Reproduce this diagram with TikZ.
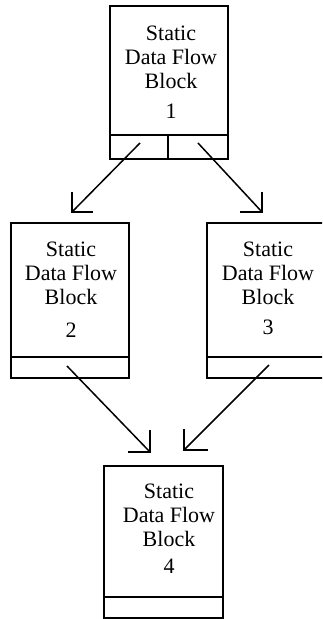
\documentclass[tikz,border=0pt]{standalone}
\usepackage{fontspec}
\setmainfont{Liberation Serif}
\usetikzlibrary{calc}
\begin{document}
\begin{tikzpicture}[x=1pt,y=-1pt,
  blk/.style={draw, line width=1.8pt, inner sep=0pt, outer sep=0pt, rectangle},
  lbl/.style={align=center, inner sep=0pt, font=\fontsize{22}{24}\selectfont},
  part/.style={line width=1.8pt},
  flow/.style={line width=1.5pt},
  barb/.style={line width=1.5pt, line join=miter}]
\useasboundingbox (0,0) rectangle (322,619);
\clip (0,0) rectangle (322,619);
\fill[white] (0,0) rectangle (322,619);
% blocks
\node[blk, minimum width=118pt, minimum height=153pt] (b1) at (169,82.5) {};
\node[blk, minimum width=118pt, minimum height=155pt] (b2) at (70,300.5) {};
\node[blk, minimum width=125pt, minimum height=155pt] (b3) at (269.5,300.5) {};
\node[blk, minimum width=119pt, minimum height=152pt] (b4) at (163.5,542) {};
% labels
\node[lbl] (t1) at (171,72) {Static\\Data Flow\\Block\\[6pt]1};
\node[lbl] (t2) at (71,290) {Static\\Data Flow\\Block\\[9pt]2};
\node[lbl] (t3) at (268,288) {Static\\Data Flow\\Block\\[6pt]3};
\node[lbl] (t4) at (169,529) {Static\\Data Flow\\Block\\[3pt]4};
% bottom compartments
\draw[part] (b1.west |- 0,135) -- (b1.east |- 0,135);
\draw[part] (168,135) -- (168,159);
\draw[part] (b2.west |- 0,357) -- (b2.east |- 0,357);
\draw[part] (b3.west |- 0,357) -- (b3.east |- 0,357);
\draw[part] (b4.west |- 0,597) -- (b4.east |- 0,597);
% connector ends
\coordinate (s12) at (140,143);
\coordinate (e12) at (72,212);
\coordinate (s13) at (198,143);
\coordinate (e13) at (262,212);
\coordinate (s24) at (67,366);
\coordinate (e24) at (150,452);
\coordinate (s34) at (269,365);
\coordinate (e34) at (184,450);
% connectors
\draw[flow] (s12) -- (e12);
\draw[flow] (s13) -- (e13);
\draw[flow] (s24) -- (e24);
\draw[flow] (s34) -- (e34);
% open right-angle arrowheads
\draw[barb] ($(e12)+(0,-20)$) -- (e12) -- ++(21,0);
\draw[barb] ($(e13)+(0,-20)$) -- (e13) -- ++(-22,0);
\draw[barb] ($(e24)+(0,-22)$) -- (e24) -- ++(-22,0);
\draw[barb] ($(e34)+(0,-21)$) -- (e34) -- ++(24,0);
\end{tikzpicture}
\end{document}
